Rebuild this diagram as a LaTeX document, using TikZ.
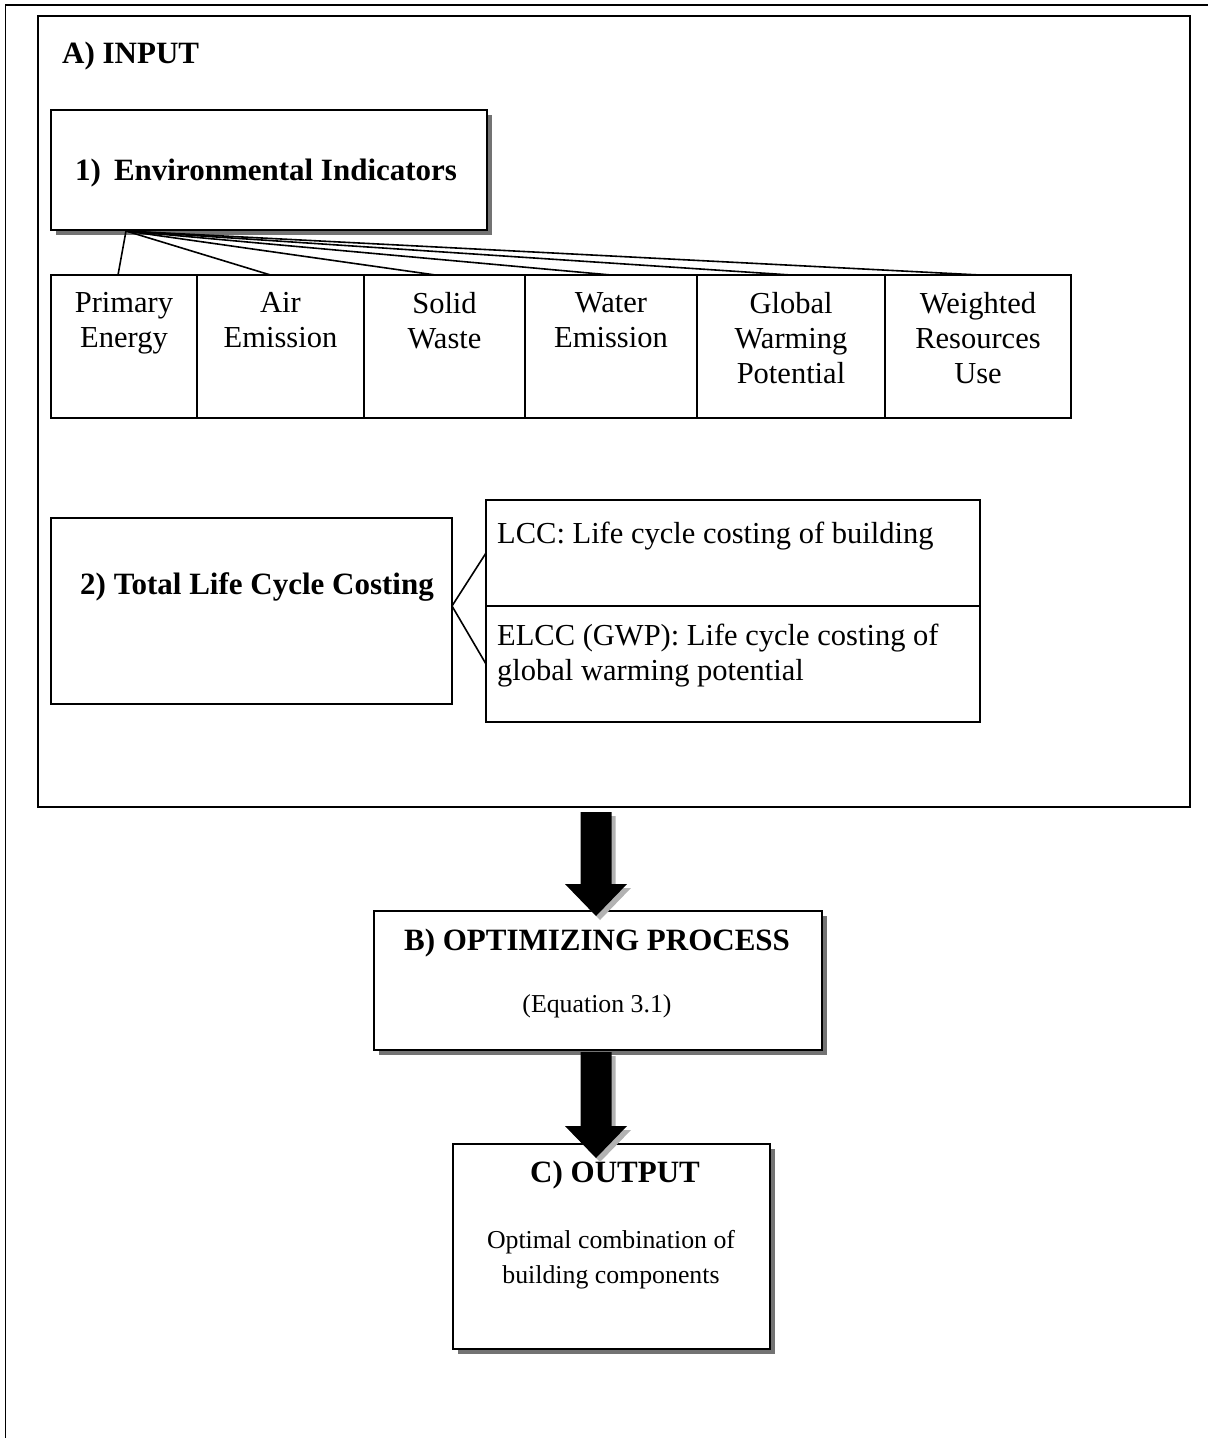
\documentclass[tikz,border=0pt]{standalone}
\usepackage{fontspec}
\setmainfont{Liberation Serif}
\usetikzlibrary{calc,shadows}

% block arrow outline from a start point (top of shaft) to a tip, moved by (#3,#3)
\newcommand{\arrowoutline}[3]{%
  ($(#1)+(-15.5+#3,#3)$) -- ($(#2)+(-15.5+#3,-32+#3)$) -- ($(#2)+(-31+#3,-32+#3)$) -- ($(#2)+(#3,#3)$)
    -- ($(#2)+(31+#3,-32+#3)$) -- ($(#2)+(15.5+#3,-32+#3)$) -- ($(#1)+(15.5+#3,#3)$) -- cycle}
% block arrow with a light shade below and right of it
\newcommand{\fatarrow}[2]{%
  \fill[arrowshade] \arrowoutline{#1}{#2}{4};
  \fill[arrowbody] \arrowoutline{#1}{#2}{0};}

\begin{document}
\begin{tikzpicture}[x=1pt,y=-1pt,
  frameline/.style={draw=black, line width=1.8pt},
  cell/.style={draw=black, line width=1.7pt, fill=white, inner sep=0pt, outer sep=0pt, anchor=north west},
  shadowed/.style={drop shadow={shadow xshift=5pt, shadow yshift=-5pt, fill=black!55, opacity=1}},
  lbl/.style={inner sep=0pt, font=\fontsize{30.5}{35}\selectfont},
  head/.style={inner sep=0pt, font=\fontsize{31}{35}\selectfont\bfseries},
  note/.style={inner sep=0pt, font=\fontsize{25.8}{35}\selectfont},
  fanline/.style={line width=1.6pt},
  arrowbody/.style={fill=black},
  arrowshade/.style={fill=black!30},
]
\useasboundingbox (0,0) rectangle (1208,1438);

% page frame
\draw[frameline] (5.5,1438) -- (5.5,5) -- (1208,5);

% A) input panel
\node[cell, minimum width=1152, minimum height=791] (input) at (38,16) {};
\node[head, anchor=base west] (inputtitle) at (62,63) {A) INPUT};

% 1) environmental indicators
\node[cell, shadowed, minimum width=436, minimum height=120] (env) at (51,110) {};
\node[head, anchor=base west] (envtitle) at (75,180) {1)\hspace{13pt}Environmental Indicators};

\node[cell, minimum width=146, minimum height=143] (pe)  at (51,275)  {};
\node[cell, minimum width=167, minimum height=143] (ae)  at (197,275) {};
\node[cell, minimum width=161, minimum height=143] (sw)  at (364,275) {};
\node[cell, minimum width=172, minimum height=143] (we)  at (525,275) {};
\node[cell, minimum width=188, minimum height=143] (gwp) at (697,275) {};
\node[cell, minimum width=186, minimum height=143] (wru) at (885,275) {};

\node[lbl, align=center, anchor=north] (pet)  at ($(pe.north)+(0,17)$)  {Primary\\Energy};
\node[lbl, align=center, anchor=north] (aet)  at ($(ae.north)+(0,17)$)  {Air\\Emission};
\node[lbl, align=center, anchor=north] (swt)  at ($(sw.north)+(0,17)$)  {Solid\\Waste};
\node[lbl, align=center, anchor=north] (wet)  at ($(we.north)+(0,17)$)  {Water\\Emission};
\node[lbl, align=center, anchor=north] (gwpt) at ($(gwp.north)+(0,17)$) {Global\\Warming\\Potential};
\node[lbl, align=center, anchor=north] (wrut) at ($(wru.north)+(0,17)$) {Weighted\\Resources\\Use};

\coordinate (fanroot) at ($(env.south west)+(75,1)$);
\draw[fanline] (fanroot) -- ($(pe.north)+(-6,0)$);
\draw[fanline] (fanroot) -- ($(ae.north)+(-10,0)$);
\draw[fanline] (fanroot) -- ($(sw.north)+(-9,0)$);
\draw[fanline] (fanroot) -- (we.north);
\draw[fanline] (fanroot) -- (gwp.north);
\draw[fanline] (fanroot) -- ($(wru.north)+(2,0)$);

% 2) total life cycle costing
\node[cell, minimum width=401, minimum height=186] (tlcc) at (51,518) {};
\node[head, anchor=base west] (tlcct) at (80,594) {2) Total Life Cycle Costing};

\node[cell, minimum width=494, minimum height=106] (lcc)  at (486,500) {};
\node[cell, minimum width=494, minimum height=116] (elcc) at (486,606) {};
\node[lbl, anchor=base west] (lcct) at (497,543) {LCC: Life cycle costing of building};
\node[lbl, anchor=north west, align=left] (elcct) at (497,624)
  {ELCC (GWP): Life cycle costing of\\global warming potential};

\coordinate (tlccjoin) at ($(tlcc.east)+(0,-5)$);
\draw[fanline] (lcc.west) -- (tlccjoin) -- (elcc.west);

% B) optimizing process
\node[cell, shadowed, minimum width=448, minimum height=139] (optbox) at (374,911) {};
\node[head, anchor=base] (opttitle) at (597,950) {B) OPTIMIZING PROCESS};
\node[note, anchor=base] (optnote) at (597,1012) {(Equation 3.1)};

% C) output
\node[cell, shadowed, minimum width=317, minimum height=205] (outbox) at (453,1144) {};
\node[head, anchor=base] (outtitle) at (615,1182) {C) OUTPUT};
\node[note, align=center, anchor=north] (outnote) at (611,1230)
  {Optimal combination of\\building components};

% flow arrows
\coordinate (a1s) at ($(input.south -| optbox.north)+(-2,5)$);
\coordinate (a1t) at ($(optbox.north)+(-2,5)$);
\coordinate (a2s) at ($(optbox.south)+(-2,2)$);
\coordinate (a2t) at ($(outbox.north -| optbox.north)+(-2,14)$);
\fatarrow{a1s}{a1t}
\fatarrow{a2s}{a2t}
\end{tikzpicture}
\end{document}
